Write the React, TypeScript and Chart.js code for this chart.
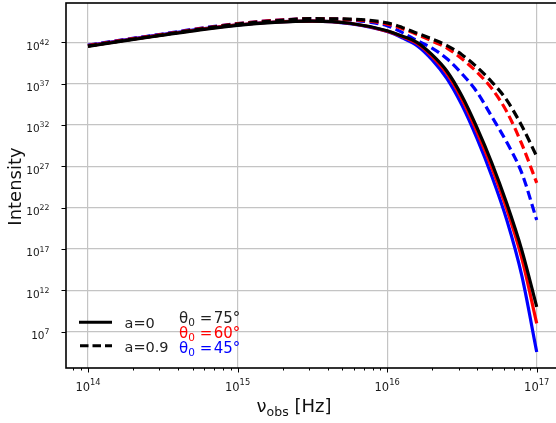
import React, { useEffect, useRef } from 'react';
import { Chart, registerables } from 'chart.js';

Chart.register(...registerables);

// log10 of observed frequency [Hz]
const LOG_NU = [14, 14.25, 14.5, 14.75, 15, 15.25, 15.5, 15.75, 16, 16.1, 16.2, 16.3, 16.4, 16.5, 16.6, 16.7, 16.8, 16.9, 17];

// log10 of intensity, a = 0 (solid)
const A0_T75 = [41.5, 42.2, 42.85, 43.5, 44.05, 44.4, 44.55, 44.3, 43.4, 42.75, 42.0, 40.5, 38.5, 35.5, 31.7, 27.4, 22.5, 16.9, 10.0];
const A0_T60 = [41.55, 42.25, 42.9, 43.55, 44.1, 44.45, 44.55, 44.3, 43.35, 42.7, 41.85, 40.3, 38.2, 35.1, 31.2, 26.8, 21.8, 15.9, 8.0];
const A0_T45 = [41.6, 42.3, 42.95, 43.6, 44.1, 44.45, 44.55, 44.25, 43.3, 42.55, 41.6, 39.9, 37.6, 34.4, 30.4, 25.8, 20.5, 13.8, 4.55];

// log10 of intensity, a = 0.9 (dashed)
const A09_T75 = [41.55, 42.25, 42.9, 43.6, 44.2, 44.6, 44.85, 44.8, 44.35, 43.8, 43.1, 42.4, 41.6, 40.5, 39.0, 37.2, 35.0, 31.9, 28.2];
const A09_T60 = [41.6, 42.3, 42.95, 43.65, 44.25, 44.65, 44.85, 44.75, 44.2, 43.65, 42.95, 42.15, 41.3, 40.0, 38.4, 36.4, 33.6, 29.7, 25.0];
const A09_T45 = [41.65, 42.35, 43.0, 43.7, 44.25, 44.65, 44.85, 44.7, 44.0, 43.2, 42.2, 41.3, 40.0, 38.2, 36.0, 33.0, 29.9, 26.2, 20.5];

// axis ticks (exponents)
const X_MAJOR_EXP = [14, 15, 16, 17];
const Y_MAJOR_EXP = [7, 12, 17, 22, 27, 32, 37, 42];
const X_LIMITS_EXP = [13.853, 17.149];
const Y_LIMITS_EXP = [2.61, 46.75];

const LEGEND_SPIN = ['a=0', 'a=0.9'];
const LEGEND_ANGLES = ['75', '60', '45'];
const COLORS = ['#000000', '#ff0000', '#0000ff'];

const isMajor = (v: number) => Math.abs(Math.log10(v) - Math.round(Math.log10(v))) < 1e-6;
const expOf = (v: number) => String(Math.round(Math.log10(v)));

const FONT = '"DejaVu Sans", sans-serif';

function series(ys: number[]) {
  return LOG_NU.map((lx, i) => ({ x: Math.pow(10, lx), y: Math.pow(10, ys[i]) }));
}

function xTickValues(): number[] {
  const out: number[] = [];
  const lo = Math.pow(10, X_LIMITS_EXP[0]);
  const hi = Math.pow(10, X_LIMITS_EXP[1]);
  for (let e = X_MAJOR_EXP[0] - 1; e <= X_MAJOR_EXP[X_MAJOR_EXP.length - 1]; e++) {
    for (let m = 1; m <= 9; m++) {
      const v = m * Math.pow(10, e);
      if (v >= lo && v <= hi) out.push(v);
    }
  }
  return out;
}

const decor = {
  id: 'decor',
  afterDraw(chart: any) {
    const { ctx, chartArea: ca, scales } = chart;
    ctx.save();
    // tick marks
    ctx.strokeStyle = '#000';
    ctx.lineWidth = 1;
    scales.x.ticks.forEach((t: any) => {
      const px = Math.round(scales.x.getPixelForValue(t.value)) + 0.5;
      const len = isMajor(t.value) ? 4.5 : 2.5;
      ctx.beginPath();
      ctx.moveTo(px, ca.bottom);
      ctx.lineTo(px, ca.bottom + len);
      ctx.stroke();
    });
    scales.y.ticks.forEach((t: any) => {
      const py = Math.round(scales.y.getPixelForValue(t.value)) + 0.5;
      ctx.beginPath();
      ctx.moveTo(ca.left, py);
      ctx.lineTo(ca.left - 4.5, py);
      ctx.stroke();
    });
    // spines
    ctx.lineWidth = 1.6;
    ctx.strokeRect(ca.left, ca.top, ca.right - ca.left, ca.bottom - ca.top);

    // tick labels with superscript exponents
    ctx.fillStyle = '#1a1a1a';
    ctx.textBaseline = 'alphabetic';
    ctx.textAlign = 'left';
    scales.x.ticks.forEach((t: any) => {
      if (!isMajor(t.value)) return;
      const px = scales.x.getPixelForValue(t.value);
      const e = expOf(t.value);
      ctx.font = `11.5px ${FONT}`;
      const w1 = ctx.measureText('10').width;
      ctx.font = `8.3px ${FONT}`;
      const w2 = ctx.measureText(e).width;
      const x0 = px - (w1 + w2) / 2;
      ctx.font = `11.5px ${FONT}`;
      ctx.fillText('10', x0, ca.bottom + 22.5);
      ctx.font = `8.3px ${FONT}`;
      ctx.fillText(e, x0 + w1, ca.bottom + 17);
    });
    scales.y.ticks.forEach((t: any) => {
      const py = scales.y.getPixelForValue(t.value);
      const e = expOf(t.value);
      ctx.font = `7.8px ${FONT}`;
      const w2 = ctx.measureText(e).width;
      const xr = ca.left - 16.5;
      ctx.fillText(e, xr - w2, py + 2.5);
      ctx.font = `10.5px ${FONT}`;
      const w1 = ctx.measureText('10').width;
      ctx.fillText('10', xr - w2 - w1, py + 7.3);
    });

    // y title
    ctx.fillStyle = '#111';
    ctx.font = `18px ${FONT}`;
    ctx.save();
    ctx.translate(16, (ca.top + ca.bottom) / 2 + 1);
    ctx.rotate(-Math.PI / 2);
    ctx.textAlign = 'center';
    ctx.textBaseline = 'middle';
    ctx.fillText('Intensity', 0, 0);
    ctx.restore();

    // x title: ν_obs [Hz]
    ctx.textAlign = 'left';
    ctx.textBaseline = 'alphabetic';
    ctx.font = `18px ${FONT}`;
    const nuW = ctx.measureText('ν').width;
    const restW = ctx.measureText(' [Hz]').width;
    ctx.font = `12.5px ${FONT}`;
    const subW = ctx.measureText('obs').width;
    const total = nuW + subW + restW;
    let x = ca.left + 228 - total / 2;
    const base = ca.bottom + 44;
    ctx.font = `18px ${FONT}`;
    ctx.fillText('ν', x, base);
    x += nuW;
    ctx.font = `12.5px ${FONT}`;
    ctx.fillText('obs', x, base + 4);
    x += subW;
    ctx.font = `18px ${FONT}`;
    ctx.fillText(' [Hz]', x, base);

    // legend lines
    ctx.strokeStyle = '#000';
    ctx.lineWidth = 3;
    ctx.beginPath();
    ctx.moveTo(ca.left + 13, ca.bottom - 45.7);
    ctx.lineTo(ca.left + 46, ca.bottom - 45.7);
    ctx.stroke();
    ctx.setLineDash([8.5, 4]);
    ctx.beginPath();
    ctx.moveTo(ca.left + 14, ca.bottom - 22.3);
    ctx.lineTo(ca.left + 46, ca.bottom - 22.3);
    ctx.stroke();
    ctx.setLineDash([]);
    ctx.fillStyle = '#222';
    ctx.font = `14.5px ${FONT}`;
    ctx.fillText(LEGEND_SPIN[0], ca.left + 58.5, ca.bottom - 40);
    ctx.fillText(LEGEND_SPIN[1], ca.left + 58.5, ca.bottom - 16.5);

    // theta labels
    LEGEND_ANGLES.forEach((ang, i) => {
      const b = ca.bottom - 45.5 + i * 15;
      let tx = ca.left + 113;
      ctx.fillStyle = i === 0 ? '#222' : COLORS[i];
      ctx.font = `15px ${FONT}`;
      ctx.fillText('θ', tx, b);
      tx += ctx.measureText('θ').width;
      ctx.font = `10.5px ${FONT}`;
      ctx.fillText('0', tx, b + 3);
      tx += ctx.measureText('0').width;
      ctx.font = `15px ${FONT}`;
      ctx.fillText(' =\u200A' + ang + '°', tx, b);
    });
    ctx.restore();
  },
};

export default function App() {
  const ref = useRef<HTMLCanvasElement | null>(null);

  useEffect(() => {
    if (!ref.current) return;
    const mk = (label: string, ys: number[], color: string, dashed: boolean, order: number) => ({
      label,
      data: series(ys),
      borderColor: color,
      backgroundColor: color,
      borderWidth: 3.2,
      borderDash: dashed ? [9, 4.5] : [],
      pointRadius: 0,
      fill: false,
      cubicInterpolationMode: 'monotone' as const,
      order,
    });
    const yMajor = Y_MAJOR_EXP.map((e) => Math.pow(10, e));
    const chart = new Chart(ref.current, {
      type: 'line',
      data: {
        datasets: [
          mk('a=0, θ0=75°', A0_T75, COLORS[0], false, 0),
          mk('a=0.9, θ0=75°', A09_T75, COLORS[0], true, 1),
          mk('a=0, θ0=60°', A0_T60, COLORS[1], false, 2),
          mk('a=0.9, θ0=60°', A09_T60, COLORS[1], true, 3),
          mk('a=0, θ0=45°', A0_T45, COLORS[2], false, 4),
          mk('a=0.9, θ0=45°', A09_T45, COLORS[2], true, 5),
        ],
      },
      options: {
        responsive: false,
        animation: false,
        layout: { padding: { top: 3, right: 21, left: 0, bottom: 0 } },
        plugins: { legend: { display: false }, tooltip: { enabled: false } },
        scales: {
          x: {
            type: 'logarithmic',
            bounds: 'data',
            min: Math.pow(10, X_LIMITS_EXP[0]),
            max: Math.pow(10, X_LIMITS_EXP[1]),
            afterBuildTicks: (scale: any) => {
              scale.ticks = xTickValues().map((v) => ({ value: v, major: isMajor(v) }));
            },
            afterFit: (scale: any) => {
              scale.height = 55;
              scale.paddingLeft = 0;
              scale.paddingRight = 0;
            },
            border: { display: false },
            grid: {
              drawTicks: false,
              color: (c: any) => (c.tick && isMajor(c.tick.value) ? '#c4c4c4' : 'rgba(0,0,0,0)'),
              lineWidth: 1.2,
            },
            ticks: { display: false, autoSkip: false, maxRotation: 0 },
          },
          y: {
            type: 'logarithmic',
            bounds: 'data',
            min: Math.pow(10, Y_LIMITS_EXP[0]),
            max: Math.pow(10, Y_LIMITS_EXP[1]),
            afterBuildTicks: (scale: any) => {
              scale.ticks = yMajor.map((v) => ({ value: v, major: true }));
            },
            afterFit: (scale: any) => {
              scale.width = 66;
              scale.paddingTop = 0;
              scale.paddingBottom = 0;
            },
            border: { display: false },
            grid: { drawTicks: false, color: '#c4c4c4', lineWidth: 1.2 },
            ticks: { display: false, autoSkip: false },
          },
        },
      },
      plugins: [decor],
    });
    return () => chart.destroy();
  }, []);

  return (
    <div style={{ position: 'fixed', left: 0, top: 0, width: 556, height: 423, overflow: 'hidden', background: '#fff' }}>
      <canvas ref={ref} width={580} height={423} style={{ display: 'block', width: 580, height: 423 }} />
    </div>
  );
}
